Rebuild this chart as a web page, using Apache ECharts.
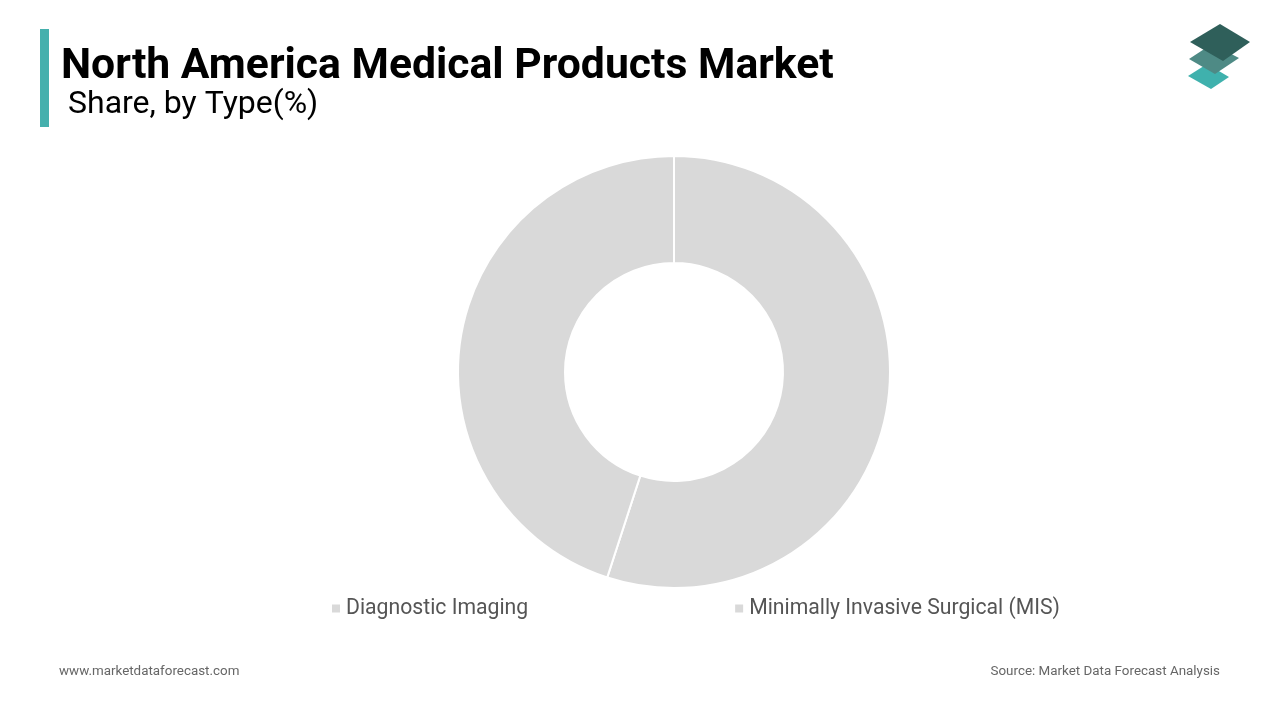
<!DOCTYPE html>
<html>
<head>
<meta charset="utf-8">
<script src="https://cdn.jsdelivr.net/npm/echarts@6/dist/echarts.min.js"></script>
<style>
  html, body { margin: 0; padding: 0; background: #fff; }
  #main { width: 1280px; height: 720px; }
</style>
</head>
<body>
<div id="main"></div>
<script>
const categories = ['Diagnostic Imaging', 'Minimally Invasive Surgical (MIS)']
const shares = [55, 45]
const sliceColors = ['#d9d9d9', '#d9d9d9']

const chart = echarts.init(document.getElementById('main'))

const option = {
  backgroundColor: '#ffffff',
  textStyle: { fontFamily: 'Roboto' },
  title: [
    {
      text: 'North America Medical Products Market',
      left: 61,
      top: 46,
      padding: 0,
      textStyle: { fontSize: 42.7, fontWeight: 'bold', color: '#000', fontFamily: 'Roboto' }
    },
    {
      text: 'Share, by Type(%)',
      left: 68,
      top: 89,
      padding: 0,
      textStyle: { fontSize: 32, fontWeight: 'normal', color: '#000', fontFamily: 'Roboto' }
    },
    {
      text: 'www.marketdataforecast.com',
      left: 59,
      top: 665,
      padding: 0,
      textStyle: { fontSize: 13.4, fontWeight: 'normal', color: '#666', fontFamily: 'Roboto' }
    },
    {
      text: 'Source: Market Data Forecast Analysis',
      right: 60,
      top: 665,
      padding: 0,
      textStyle: { fontSize: 13.4, fontWeight: 'normal', color: '#666', fontFamily: 'Roboto' }
    }
  ],
  legend: {
    data: categories,
    left: 330,
    top: 598,
    padding: 0,
    icon: 'rect',
    itemWidth: 10,
    itemHeight: 10,
    itemGap: 205,
    textStyle: { fontSize: 21.2, color: '#555', fontFamily: 'Roboto' }
  },
  graphic: [
    // left accent bar
    { type: 'rect', shape: { x: 40, y: 29, width: 9, height: 98 }, style: { fill: '#45b0ad' } },
    // logo: stacked diamonds
    { type: 'polygon', shape: { points: [[1188, 76], [1207, 64], [1229, 77], [1211, 89]] }, style: { fill: '#3fb1ad' } },
    { type: 'polygon', shape: { points: [[1189, 59], [1212, 44], [1239, 58], [1215, 74]] }, style: { fill: '#4e8a85' } },
    { type: 'polygon', shape: { points: [[1190, 42], [1220, 24], [1250, 42], [1223, 61]] }, style: { fill: '#2f5f5a' } }
  ],
  series: [
    {
      type: 'pie',
      center: [674, 372],
      radius: [109, 216],
      startAngle: 90,
      clockwise: true,
      label: { show: false },
      labelLine: { show: false },
      itemStyle: { borderColor: '#fff', borderWidth: 2 },
      emphasis: { disabled: true },
      data: categories.map((name, i) => ({
        name,
        value: shares[i],
        itemStyle: { color: sliceColors[i] }
      }))
    }
  ]
}

chart.setOption(option)
</script>
</body>
</html>
